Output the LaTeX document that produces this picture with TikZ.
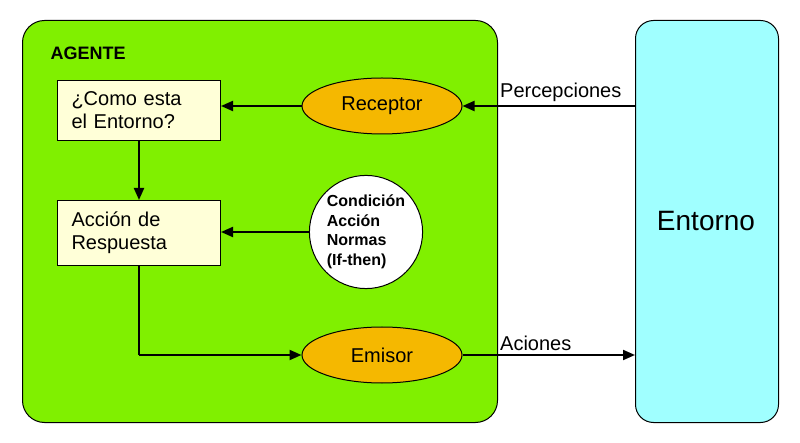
\documentclass[tikz,border=0pt]{standalone}
\usepackage{fontspec}
\setmainfont{Liberation Sans}
\usetikzlibrary{arrows.meta,shapes.geometric}
\definecolor{agentg}{HTML}{80F000}
\definecolor{envc}{HTML}{A0FFFF}
\definecolor{boxy}{HTML}{FFFFD8}
\definecolor{orng}{HTML}{F5B800}
\begin{document}
\begin{tikzpicture}[x=1pt,y=-1pt,
  txt/.style={font=\fontsize{20}{23}\selectfont},
  sbox/.style={draw=black,line width=1pt,fill=boxy,minimum width=163pt,align=left,text width=135pt,txt,anchor=north west},
  oval/.style={ellipse,draw=black,line width=1pt,fill=orng,minimum width=160pt,minimum height=56pt,txt},
  arr/.style={line width=2pt,-{Triangle[length=12pt,width=10pt]}}]
\useasboundingbox (0,0) rectangle (800,443);
\node[draw=black,line width=1pt,fill=agentg,rounded corners=22pt,minimum width=475pt,minimum height=402pt,anchor=north west] (agent) at (22,20) {};
\node[draw=black,line width=1pt,fill=envc,rounded corners=18pt,minimum width=143pt,minimum height=402pt,anchor=north west] (env) at (635,20) {};
\node[font=\fontsize{28}{31}\selectfont] (envt) at (706,221) {Entorno};
\node[anchor=west,font=\bfseries\fontsize{18}{20}\selectfont] (ag) at (47,53) {AGENTE};
\node[sbox,minimum height=60pt,inner xsep=14pt] (b1) at (57,80) {¿Como esta\\el Entorno?};
\node[sbox,minimum height=65pt,inner xsep=14pt] (b2) at (57,200) {Acción de\\Respuesta};
\node[oval] (rec) at (382,106) {Receptor};
\node[oval] (emi) at (382,355) {Emisor};
\node[circle,draw=black,line width=1pt,fill=white,minimum size=104pt,inner sep=2pt,align=left,font=\bfseries\fontsize{16}{19.5}\selectfont] (cond) at (366,232) {Condición\\Acción\\Normas\\(If-then)};
\coordinate (ein) at (env.west |- rec);
\coordinate (eout) at (env.west |- emi);
\coordinate (corner) at (b2.south |- emi);
\draw[arr] (ein) -- (rec.east);
\draw[arr] (rec.west) -- (rec.west -| b1.east);
\draw[arr] (b1.south) -- (b2.north);
\draw[arr] (cond.west) -- (cond.west -| b2.east);
\draw[line width=2pt] (b2.south) -- (corner);
\draw[arr] (corner) -- (emi.west);
\draw[arr] (emi.east) -- (eout);
\node[txt,anchor=south west,inner sep=0pt] (perc) at (500,102) {Percepciones};
\node[txt,anchor=south west,inner sep=0pt] (acio) at (500,351) {Aciones};
\end{tikzpicture}
\end{document}
